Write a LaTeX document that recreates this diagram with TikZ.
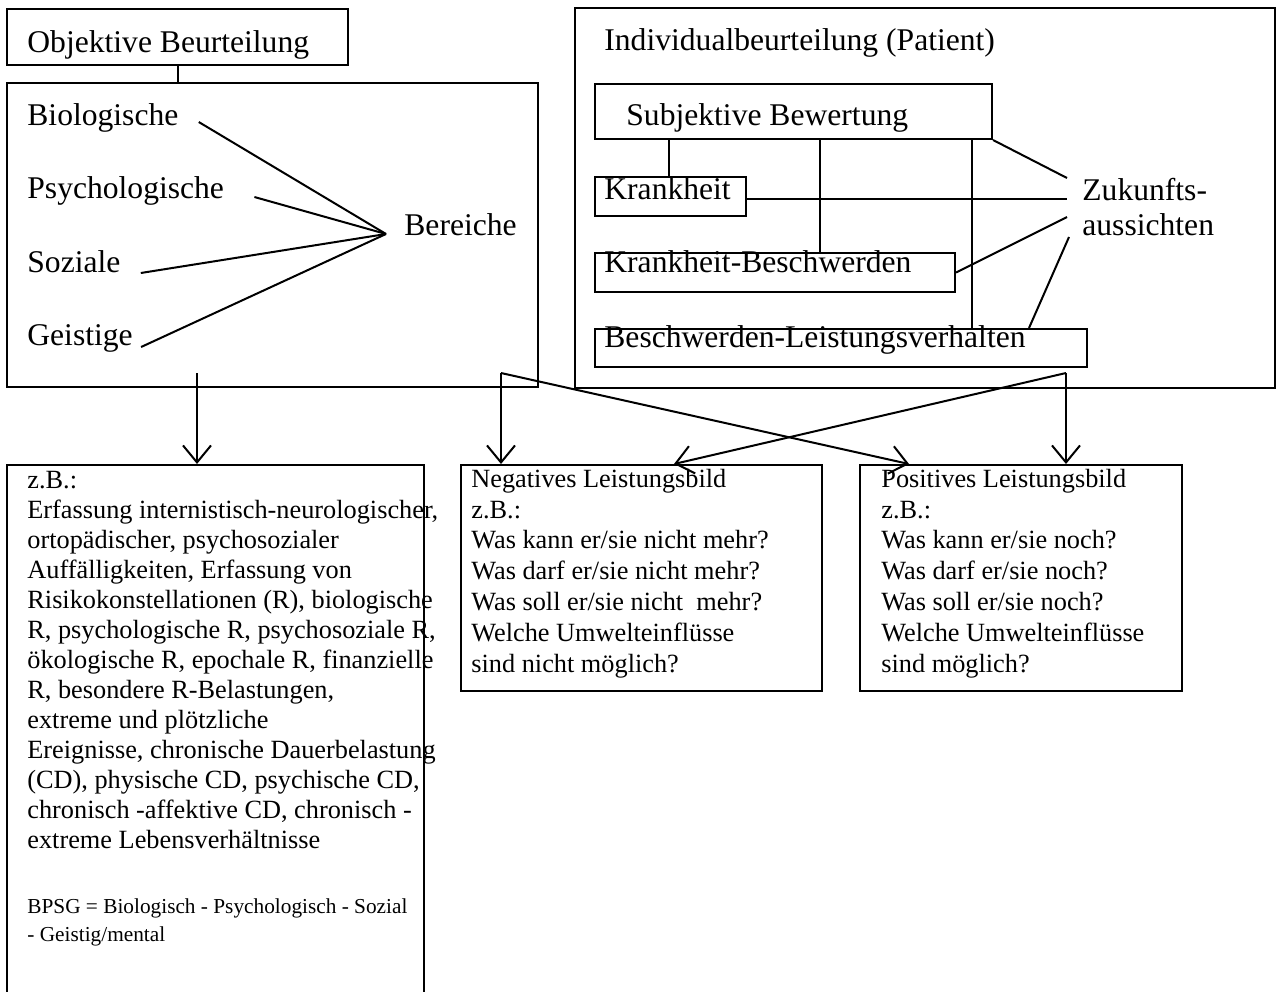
\documentclass[tikz,border=0pt]{standalone}
\usepackage{fontspec}
\setmainfont{Liberation Serif}
\usetikzlibrary{arrows.meta,calc,fit}

\begin{document}
\begin{tikzpicture}[x=0.5pt,y=-0.5pt,
    box/.style={draw,line width=1pt,inner sep=0pt},
    big/.style={inner sep=0pt,anchor=base west,font=\fontsize{15.8}{19}\selectfont},
    txt/.style={inner sep=0pt,anchor=base west,align=left,font=\fontsize{13.15}{15}\selectfont},
    note/.style={inner sep=0pt,anchor=base west,align=left,font=\fontsize{10.65}{14}\selectfont},
    link/.style={line width=1pt},
    arr/.style={line width=1pt,-{Straight Barb[length=8.5pt,width=14pt]}}]
    \useasboundingbox (0,0) rectangle (1278,991);

    % Objektive Beurteilung
    \node[box,fit={(7,9)(348,65)}] (obj) {};
    \node[big] (objt) at (27,52) {Objektive Beurteilung};
    \node[box,fit={(7,83)(538,387)}] (bpsg) {};
    \draw[link] (obj.south) -- (obj.south |- bpsg.north);

    % Bereiche
    \node[big] (bio) at (27,125) {Biologische};
    \node[big] (psy) at (27,198) {Psychologische};
    \node[big] (soz) at (27,272) {Soziale};
    \node[big] (gei) at (27,345) {Geistige};
    \node[big] (ber) at (404,235) {Bereiche};
    \coordinate (hub) at ($(ber.base west)+(-18,-1)$);
    \draw[link] ($(bio.base east)+(20,-3)$) -- (hub);
    \draw[link] ($(psy.base east)+(30,-1)$) -- (hub);
    \draw[link] ($(soz.base east)+(20,1)$) -- (hub);
    \draw[link] ($(gei.base east)+(8,2)$) -- (hub);

    % Individualbeurteilung
    \node[box,fit={(575,8)(1275,388)}] (ind) {};
    \node[big] (indt) at (604,50) {Individualbeurteilung (Patient)};
    \node[box,fit={(595,84)(992,139)}] (subj) {};
    \node[big] (subjt) at (626,125) {Subjektive Bewertung};
    \node[box,fit={(595,177)(746,216)}] (kr) {};
    \node[big] (krt) at (604,199) {Krankheit};
    \node[box,fit={(595,253)(955,292)}] (kb) {};
    \node[big] (kbt) at (604,272) {Krankheit-Beschwerden};
    \node[box,fit={(595,329)(1087,367)}] (bl) {};
    \node[big] (blt) at (604,347) {Beschwerden-Leistungsverhalten};
    \node[big,align=left,font=\fontsize{15.8}{17.5}\selectfont] (zuk) at (1082,235) {Zukunfts-\\aussichten};

    \draw[link] ($(kr.north west)+(75,0)$) coordinate (v1) -- (v1 |- subj.south);
    \draw[link] ($(kb.north west)+(226,0)$) coordinate (v2) -- (v2 |- subj.south);
    \draw[link] ($(bl.north west)+(378,0)$) coordinate (v3) -- (v3 |- subj.south);

    % Zukunftsaussichten
    \draw[link] (subj.south east) -- ($(zuk.base west)+(-15,-57)$);
    \draw[link] ($(kr.east)+(0,2.5)$) -- ($(zuk.base west)+(-15,-36)$);
    \draw[link] (kb.east) -- ($(zuk.base west)+(-15,-18)$);
    \draw[link] ($(bl.north west)+(435,0)$) -- ($(zuk.base west)+(-13,2)$);

    % Leistungsbild
    \node[box,fit={(7,465)(424,1000)}] (zb) {};
    \node[txt] (zbt) at (27,848) {z.B.:\\
        Erfassung internistisch-neurologischer,\\
        ortopädischer, psychosozialer\\
        Auffälligkeiten, Erfassung von\\
        Risikokonstellationen (R), biologische\\
        R, psychologische R, psychosoziale R,\\
        ökologische R, epochale R, finanzielle\\
        R, besondere R-Belastungen,\\
        extreme und plötzliche\\
        Ereignisse, chronische Dauerbelastung\\
        (CD), physische CD, psychische CD,\\
        chronisch -affektive CD, chronisch -\\
        extreme Lebensverhältnisse};
    \node[note] (zbn) at (27,941) {BPSG = Biologisch - Psychologisch - Sozial\\- Geistig/mental};

    \node[box,fit={(461,465)(822,691)}] (neg) {};
    \node[txt,font=\fontsize{13.15}{15.4}\selectfont] (negt) at (471,672) {Negatives Leistungsbild\\
        z.B.:\\
        Was kann er/sie nicht mehr?\\
        Was darf er/sie nicht mehr?\\
        Was soll er/sie nicht\ \ mehr?\\
        Welche Umwelteinflüsse\\
        sind nicht möglich?};
    \node[box,fit={(860,465)(1182,691)}] (pos) {};
    \node[txt,font=\fontsize{13.15}{15.4}\selectfont] (post) at (881,672) {Positives Leistungsbild\\
        z.B.:\\
        Was kann er/sie noch?\\
        Was darf er/sie noch?\\
        Was soll er/sie noch?\\
        Welche Umwelteinflüsse\\
        sind möglich?};

    % Pfeile
    \coordinate (p0) at (197,373);
    \coordinate (p1) at (501,373);
    \coordinate (p2) at (1066,373);
    \draw[arr] (p0) -- (p0 |- zb.north);
    \draw[arr] (p1) -- (p1 |- neg.north);
    \draw[arr] (p1) -- ($(pos.north west)+(50,0)$);
    \draw[arr] (p2) -- (p2 |- pos.north);
    \draw[arr] (p2) -- ($(neg.north west)+(214,0)$);
\end{tikzpicture}
\end{document}
